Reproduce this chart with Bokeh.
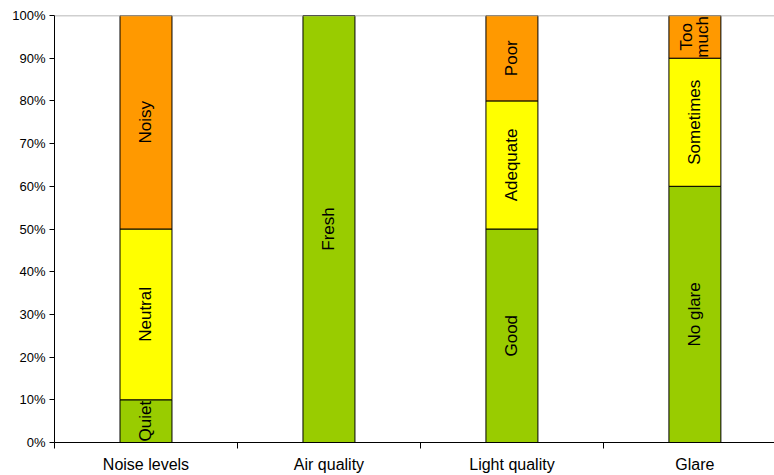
from bokeh.plotting import figure
from bokeh.models import (Range1d, FixedTicker, NumeralTickFormatter, Span,
                          ColumnDataSource)
from bokeh.core.properties import value
from bokeh.embed import file_html
from bokeh.resources import INLINE
import math

# Survey categories and the share of responses in each level (fractions)
categories = ["Noise levels", "Air quality", "Light quality", "Glare"]
good_vals = [0.10, 1.00, 0.50, 0.60]
mid_vals = [0.40, 0.00, 0.30, 0.30]
bad_vals = [0.50, 0.00, 0.20, 0.10]

good_labels = ["Quiet", "Fresh", "Good", "No glare"]
mid_labels = ["Neutral", "", "Adequate", "Sometimes"]
bad_labels = ["Noisy", "", "Poor", "Too\nmuch"]

y_ticks = [i / 10 for i in range(11)]

GREEN = "#99CC00"
YELLOW = "#FFFF00"
ORANGE = "#FF9900"

xs = [i + 0.5 for i in range(len(categories))]

p = figure(width=774, height=475, output_backend="svg", toolbar_location=None,
           x_range=Range1d(0, 3.935), y_range=Range1d(0, 1),
           min_border_left=54, min_border_right=0, min_border_top=15,
           min_border_bottom=33, outline_line_color=None)
p.background_fill_color = "white"
p.border_fill_color = "white"
p.xgrid.visible = False
p.ygrid.visible = False

src = ColumnDataSource(dict(x=xs, good=good_vals, mid=mid_vals, bad=bad_vals))
p.vbar_stack(["good", "mid", "bad"], x="x", width=0.284, source=src,
             color=[GREEN, YELLOW, ORANGE], line_color="black", line_width=1)

# gray rule at the 100% level
p.add_layout(Span(location=1.0, dimension="width", line_color="#A0A0A0",
                  line_width=1.5))

# labels in the middle of each stacked segment
lx, ly, lt = [], [], []
for i, x in enumerate(xs):
    base = 0.0
    for v, lab in ((good_vals[i], good_labels[i]), (mid_vals[i], mid_labels[i]),
                   (bad_vals[i], bad_labels[i])):
        if v > 0 and lab:
            lx.append(x)
            ly.append(base + v / 2)
            lt.append(lab)
        base += v
p.text(x=lx, y=ly, text=lt, angle=math.pi / 2, text_align="center",
       text_baseline="middle", text_font=value("Liberation Sans"),
       text_font_size="17px", text_color="black", text_line_height=0.85)

# x axis: labels at bar centres, tick marks between categories
xa = p.xaxis[0]
xa.ticker = FixedTicker(ticks=xs, minor_ticks=[0, 1, 2, 3])
xa.major_label_overrides = {x: c for x, c in zip(xs, categories)}
xa.major_tick_line_color = None
xa.major_tick_out = 0
xa.major_tick_in = 0
xa.minor_tick_out = 6
xa.minor_tick_in = 0
xa.minor_tick_line_color = "black"
xa.axis_line_color = "black"
xa.major_label_text_font = "Liberation Sans"
xa.major_label_text_font_size = "16px"
xa.major_label_text_color = "black"
xa.major_label_standoff = 7

ya = p.yaxis[0]
ya.ticker = FixedTicker(ticks=y_ticks, minor_ticks=[])
ya.formatter = NumeralTickFormatter(format="0%")
ya.major_tick_out = 5
ya.major_tick_in = 0
ya.major_tick_line_color = "black"
ya.axis_line_color = "black"
ya.major_label_text_font = "Liberation Sans"
ya.major_label_text_font_size = "13px"
ya.major_label_text_color = "black"
ya.major_label_standoff = 4

open("out.html", "w").write(file_html(p, INLINE))
